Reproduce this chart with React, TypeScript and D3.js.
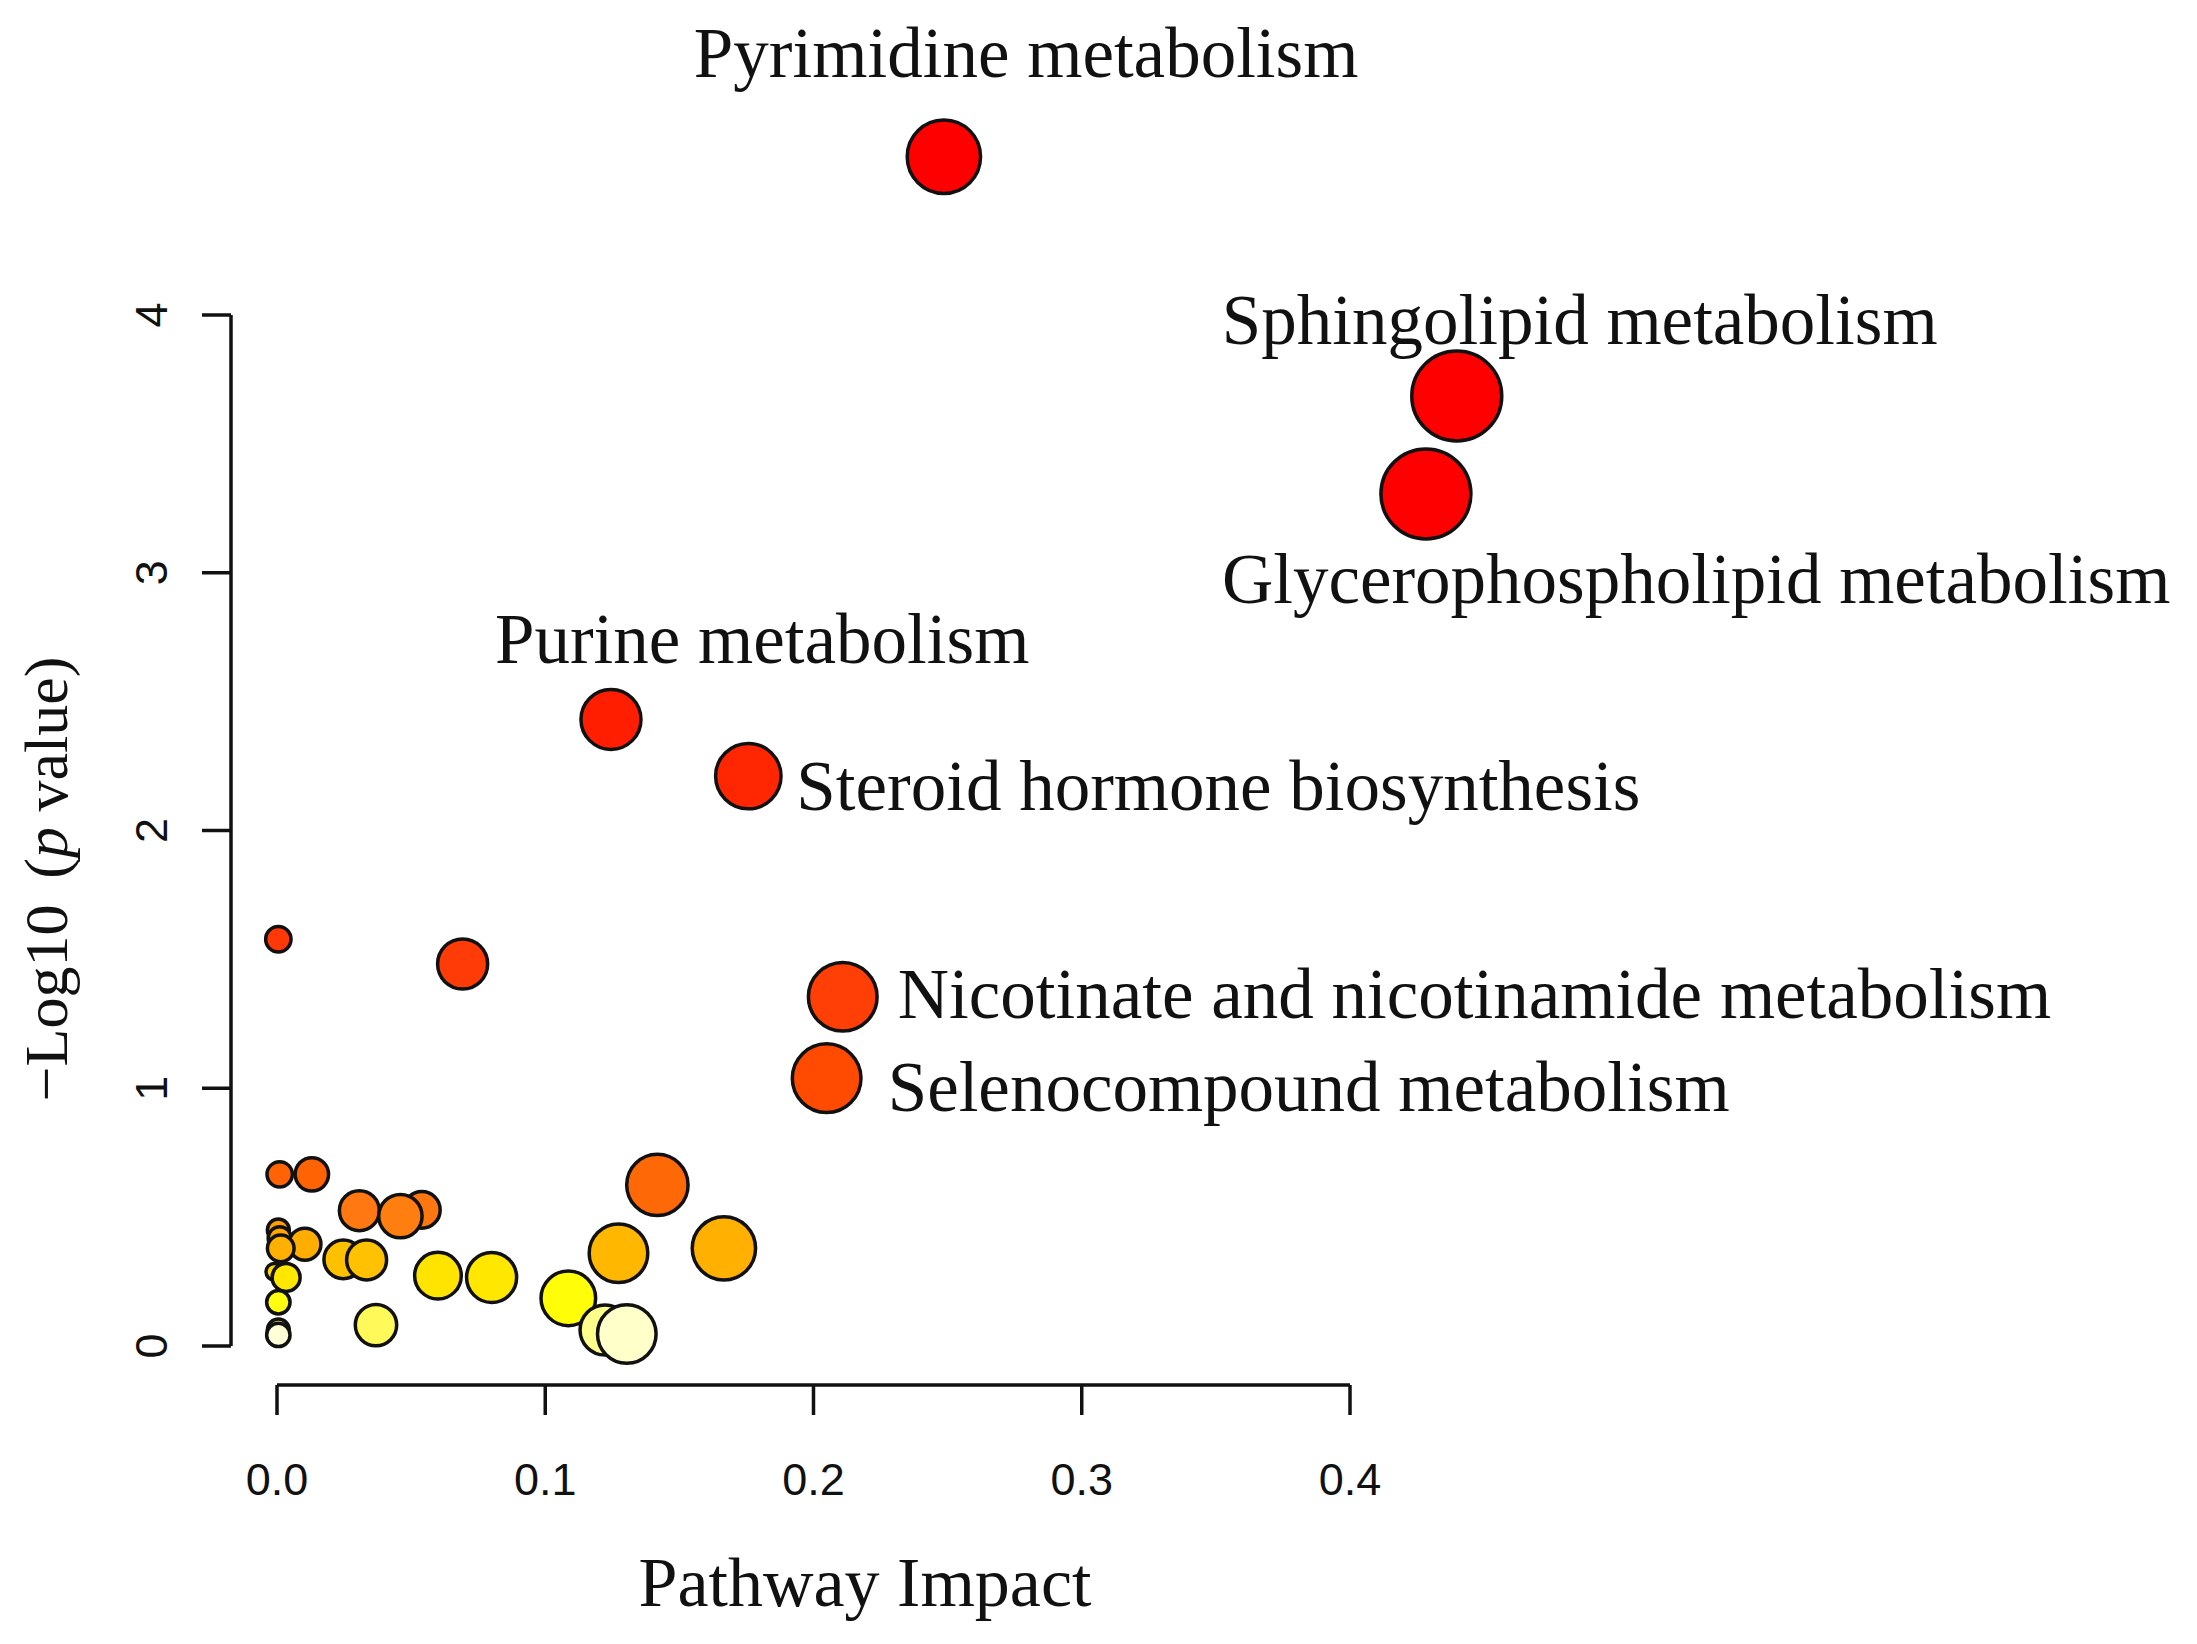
import React from "react";
import * as d3 from "d3";

// ---- data ----
const pathwayNames = [
  "Pyrimidine metabolism",
  "Sphingolipid metabolism",
  "Glycerophospholipid metabolism",
  "Purine metabolism",
  "Steroid hormone biosynthesis",
  "Nicotinate and nicotinamide metabolism",
  "Selenocompound metabolism",
  "", "", "", "", "", "", "", "", "", "", "", "", "", "", "", "", "", "", "", "", "", "", "", "", "", "", "",
];
const impactValues = [
  0.2486, 0.4398, 0.4283, 0.1245, 0.1757, 0.2109, 0.2049,
  0.0005, 0.0692, 0.1418, 0.001, 0.013, 0.0307, 0.054, 0.046, 0.0005, 0.001,
  0.0104, 0.0014, 0.0247, 0.0334, 0.06, 0.08, 0.1273, 0.1666, -0.001, 0.0034,
  0.0005, 0.0369, 0.1086, 0.1223, 0.1304, 0.0005, 0.0005,
];
const negLogP = [
  4.614, 3.686, 3.306, 2.431, 2.211, 1.355, 1.039,
  1.578, 1.482, 0.625, 0.666, 0.666, 0.525, 0.528, 0.504, 0.45, 0.418,
  0.395, 0.379, 0.336, 0.334, 0.273, 0.266, 0.36, 0.379, 0.288, 0.266,
  0.17, 0.081, 0.185, 0.062, 0.0466, 0.062, 0.043,
];
const bubbleSize = [
  0.815, 1.0, 1.0, 0.667, 0.727, 0.763, 0.763,
  0.282, 0.556, 0.682, 0.282, 0.371, 0.444, 0.407, 0.482, 0.244, 0.256,
  0.356, 0.296, 0.429, 0.444, 0.518, 0.556, 0.651, 0.704, 0.185, 0.311,
  0.26, 0.46, 0.607, 0.556, 0.651, 0.244, 0.26,
];
const xTicks = [0.0, 0.1, 0.2, 0.3, 0.4];
const yTicks = [0, 1, 2, 3, 4];
const xTitle = "Pathway Impact";

// ---- layout (label offsets relative to bubble centre, px) ----
const labelOffset: Record<string, [number, number]> = {
  "Pyrimidine metabolism": [-250, -80],
  "Sphingolipid metabolism": [-235, -52],
  "Glycerophospholipid metabolism": [-204, 109],
  "Purine metabolism": [-116, -56],
  "Steroid hormone biosynthesis": [48, 34],
  "Nicotinate and nicotinamide metabolism": [55, 21],
  "Selenocompound metabolism": [61, 33],
};

const W = 2197;
const H = 1644;
const SERIF = "'Liberation Serif', 'Times New Roman', serif";
const SANS = "'Liberation Sans', Arial, sans-serif";

export default function App() {
  const x = d3.scaleLinear().domain([0, 0.4]).range([277, 1350]);
  const y = d3.scaleLinear().domain([0, 4]).range([1346, 315]);
  const r = d3.scaleLinear().domain([0, 1]).range([0, 45]);
  const color = d3
    .scaleLinear<string>()
    .domain([0.04, 0.065, 0.085, 0.18, 0.27, 0.335, 0.38, 0.45, 0.51, 0.65, 1.0, 1.5, 2.3, 3.2])
    .range([
      "#FFFFE4", "#FFFF80", "#FFF850", "#FFFF08", "#FFE600", "#FFC000", "#FFB000",
      "#FFA000", "#FF7A12", "#FF6404", "#FF4C00", "#FF3A08", "#FF2400", "#FF0000",
    ])
    .clamp(true);

  const points = impactValues.map((v, i) => ({
    name: pathwayNames[i],
    px: x(v),
    py: y(negLogP[i]),
    r: r(bubbleSize[i]),
    fill: color(negLogP[i]),
  }));

  const axisY0 = 1385; // x-axis line position
  const axisX0 = 231; // y-axis line position

  return (
    <svg
      width={W}
      height={H}
      viewBox={`0 0 ${W} ${H}`}
      style={{ position: "absolute", left: 0, top: 0, display: "block", background: "#fff" }}
    >
      {/* x axis */}
      <line x1={x(0)} x2={x(0.4)} y1={axisY0} y2={axisY0} stroke="#111" strokeWidth={3.5} />
      {xTicks.map((t) => (
        <g key={"xt" + t}>
          <line x1={x(t)} x2={x(t)} y1={axisY0} y2={axisY0 + 30} stroke="#111" strokeWidth={3.5} />
          <text x={x(t)} y={1495} textAnchor="middle" fontFamily={SANS} fontSize={45} fill="#111">
            {t.toFixed(1)}
          </text>
        </g>
      ))}
      {/* y axis */}
      <line x1={axisX0} x2={axisX0} y1={y(0)} y2={y(4)} stroke="#111" strokeWidth={3.5} />
      {yTicks.map((t) => (
        <g key={"yt" + t}>
          <line x1={axisX0 - 29} x2={axisX0} y1={y(t)} y2={y(t)} stroke="#111" strokeWidth={3.5} />
          <text
            transform={`translate(167,${y(t)}) rotate(-90)`}
            textAnchor="middle"
            fontFamily={SANS}
            fontSize={45}
            fill="#111"
          >
            {t}
          </text>
        </g>
      ))}
      {/* axis titles */}
      <text x={865} y={1606} textAnchor="middle" fontFamily={SERIF} fontSize={70} fill="#111">
        {xTitle}
      </text>
      <text
        transform={`translate(67,879) rotate(-90)`}
        textAnchor="middle"
        fontFamily={SERIF}
        fontSize={62}
        fill="#111"
      >
        −Log10
        <tspan dx={26}>(</tspan>
        <tspan fontStyle="italic">p</tspan>
        <tspan> value)</tspan>
      </text>
      {/* bubbles */}
      {points.map((p, i) => (
        <circle key={"c" + i} cx={p.px} cy={p.py} r={p.r} fill={p.fill} stroke="#111" strokeWidth={3.5} />
      ))}
      {/* labels */}
      {points
        .filter((p) => p.name && labelOffset[p.name])
        .map((p) => (
          <text
            key={"l" + p.name}
            x={p.px + labelOffset[p.name][0]}
            y={p.py + labelOffset[p.name][1]}
            fontFamily={SERIF}
            fontSize={71}
            fill="#111"
          >
            {p.name}
          </text>
        ))}
    </svg>
  );
}
